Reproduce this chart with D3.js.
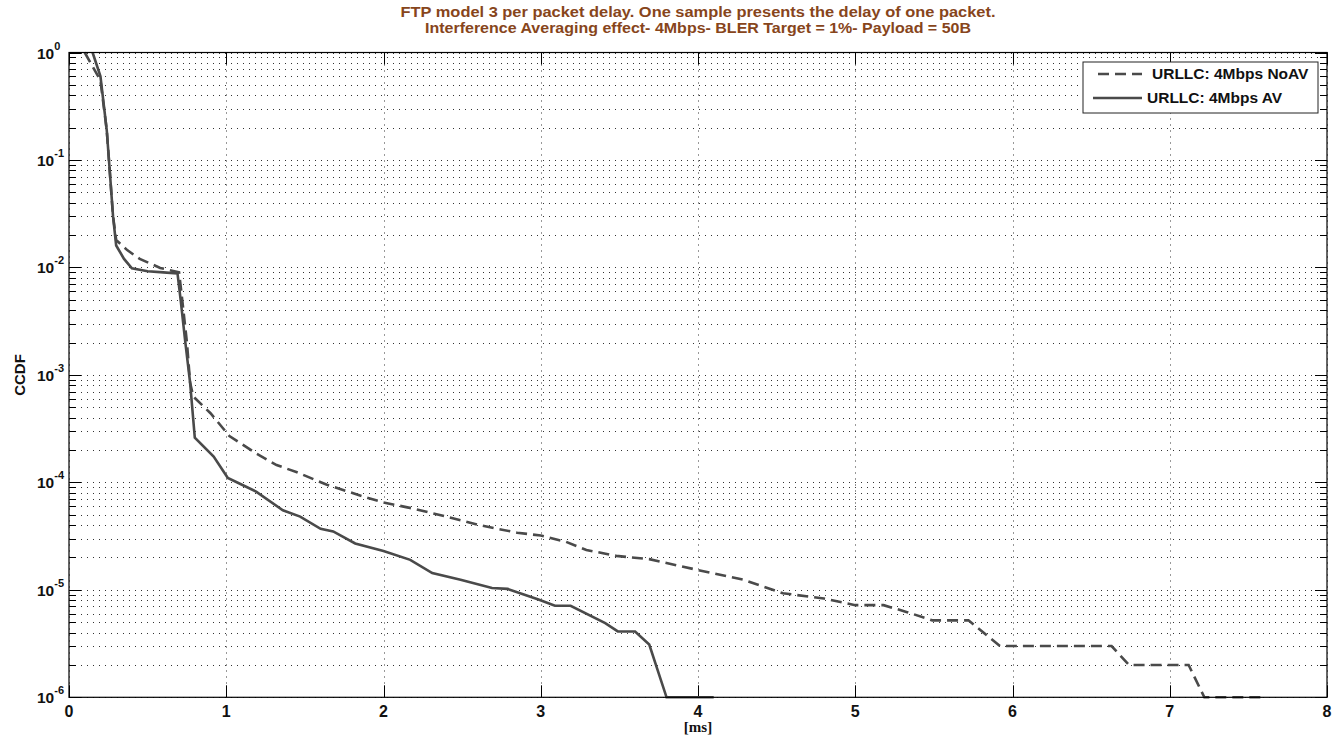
<!DOCTYPE html>
<html>
<head>
<meta charset="utf-8">
<script src="https://cdn.jsdelivr.net/npm/d3@7"></script>
<style>
  body { margin: 0; background: #fff; }
  text { font-family: "Liberation Sans", Arial, sans-serif; font-weight: bold; }
</style>
</head>
<body>
<div id="chart"></div>
<script>
// CCDF of per packet delay
var noavX = [0.10, 0.20, 0.24, 0.26, 0.28, 0.30, 0.37, 0.45, 0.58, 0.70, 0.72, 0.75, 0.77, 0.79, 0.90, 1.02, 1.19, 1.32, 1.45, 1.64, 1.87, 2.00, 2.19, 2.40, 2.61, 2.85, 3.00, 3.16, 3.29, 3.48, 3.69, 3.99, 4.29, 4.54, 4.80, 5.00, 5.18, 5.33, 5.49, 5.72, 5.92, 6.63, 6.74, 7.12, 7.22, 7.60];
var noavY = [1.0, 0.55, 0.19, 0.076, 0.03, 0.018, 0.0145, 0.012, 0.0099, 0.009, 0.005, 0.002, 0.00085, 0.00063, 0.00044, 0.00027, 0.000186, 0.000145, 0.000124, 0.000095, 0.000074, 0.000065, 0.000057, 0.000048, 0.00004, 0.000034, 0.000032, 0.000028, 0.0000235, 0.0000207, 0.0000193, 0.0000154, 0.0000124, 0.0000093, 0.0000083, 0.0000072, 0.0000072, 0.0000062, 0.0000052, 0.0000052, 0.000003, 0.000003, 0.000002, 0.000002, 0.000001, 0.000001];

var avX = [0.15, 0.20, 0.24, 0.26, 0.28, 0.30, 0.35, 0.40, 0.50, 0.60, 0.69, 0.71, 0.74, 0.77, 0.80, 0.92, 1.01, 1.10, 1.19, 1.36, 1.47, 1.60, 1.68, 1.82, 2.00, 2.17, 2.31, 2.49, 2.69, 2.79, 2.99, 3.09, 3.19, 3.41, 3.49, 3.60, 3.69, 3.80, 4.10];
var avY = [1.0, 0.6, 0.19, 0.076, 0.03, 0.016, 0.012, 0.0098, 0.0092, 0.009, 0.0088, 0.005, 0.002, 0.00085, 0.00026, 0.000174, 0.00011, 0.000095, 0.000082, 0.000055, 0.000048, 0.000037, 0.000035, 0.000027, 0.000023, 0.000019, 0.0000143, 0.0000124, 0.0000104, 0.0000102, 0.0000081, 0.0000071, 0.0000071, 0.0000049, 0.0000041, 0.0000041, 0.0000031, 0.000001, 0.000001];

var seriesNames = ["URLLC: 4Mbps NoAV", "URLLC: 4Mbps AV"];
var xTicks = [0, 1, 2, 3, 4, 5, 6, 7, 8];
var yExponents = [0, -1, -2, -3, -4, -5, -6];
var titleLines = ["FTP model 3 per packet delay. One sample presents the delay of one packet.",
                  "Interference Averaging effect- 4Mbps- BLER Target = 1%- Payload = 50B"];

var W = 1343, H = 744;
var margin = {left: 69, right: 16, top: 52.5, bottom: 46.7};

var svg = d3.select("#chart").append("svg")
    .attr("width", W).attr("height", H);

var x = d3.scaleLinear().domain([0, 8]).range([margin.left, W - margin.right]);
var y = d3.scaleLog().domain([1e-6, 1]).range([H - margin.bottom, margin.top]);

// minor values 2..9 per decade
var minorVals = [];
yExponents.slice(1).forEach(function (e) {
    for (var k = 2; k <= 9; k++) minorVals.push(k * Math.pow(10, e));
});
var majorVals = yExponents.map(function (e) { return Math.pow(10, e); });

var grid = svg.append("g").attr("class", "grid")
    .attr("stroke", "#333").attr("stroke-width", 1)
    .attr("stroke-dasharray", "1,5");

grid.selectAll(".hg")
    .data(majorVals.concat(minorVals))
    .enter().append("line")
    .attr("x1", x(0)).attr("x2", x(8))
    .attr("y1", function (d) { return Math.round(y(d)) + 0.5; })
    .attr("y2", function (d) { return Math.round(y(d)) + 0.5; });

grid.selectAll(".vg")
    .data(xTicks)
    .enter().append("line")
    .attr("y1", y(1)).attr("y2", y(1e-6))
    .attr("x1", function (d) { return Math.round(x(d)) + 0.5; })
    .attr("x2", function (d) { return Math.round(x(d)) + 0.5; });

// tick marks (inward, all sides)
var ticks = svg.append("g").attr("stroke", "#000").attr("stroke-width", 1);
majorVals.forEach(function (v) {
    var yy = Math.round(y(v)) + 0.5;
    ticks.append("line").attr("x1", x(0)).attr("x2", x(0) + 12).attr("y1", yy).attr("y2", yy);
    ticks.append("line").attr("x1", x(8)).attr("x2", x(8) - 12).attr("y1", yy).attr("y2", yy);
});
minorVals.forEach(function (v) {
    var yy = Math.round(y(v)) + 0.5;
    ticks.append("line").attr("x1", x(0)).attr("x2", x(0) + 7).attr("y1", yy).attr("y2", yy);
    ticks.append("line").attr("x1", x(8)).attr("x2", x(8) - 7).attr("y1", yy).attr("y2", yy);
});
xTicks.forEach(function (v) {
    var xx = Math.round(x(v)) + 0.5;
    ticks.append("line").attr("x1", xx).attr("x2", xx).attr("y1", y(1e-6)).attr("y2", y(1e-6) - 12);
    ticks.append("line").attr("x1", xx).attr("x2", xx).attr("y1", y(1)).attr("y2", y(1) + 12);
});

// curves
var line = d3.line()
    .x(function (d) { return x(d[0]); })
    .y(function (d) { return y(d[1]); });

var noavData = d3.zip(noavX, noavY);
var avData = d3.zip(avX, avY);

svg.append("path").datum(noavData)
    .attr("d", line)
    .attr("fill", "none").attr("stroke", "#4a4a4a")
    .attr("stroke-width", 2.6)
    .attr("stroke-dasharray", "11,6");

svg.append("path").datum(avData)
    .attr("d", line)
    .attr("fill", "none").attr("stroke", "#4a4a4a")
    .attr("stroke-width", 2.6);

// box
svg.append("rect")
    .attr("x", x(0)).attr("y", y(1))
    .attr("width", x(8) - x(0)).attr("height", y(1e-6) - y(1))
    .attr("fill", "none").attr("stroke", "#000").attr("stroke-width", 1.2);

// x tick labels
svg.selectAll(".xl")
    .data(xTicks)
    .enter().append("text")
    .attr("x", function (d) { return x(d); })
    .attr("y", 717)
    .attr("text-anchor", "middle")
    .style("font-size", "16px")
    .attr("fill", "#111")
    .text(function (d) { return d; });

// y tick labels 10^e
var yl = svg.selectAll(".yl")
    .data(yExponents)
    .enter().append("text")
    .attr("x", 37)
    .attr("y", function (d) { return y(Math.pow(10, d)) + 6; })
    .style("font-size", "15.5px")
    .attr("fill", "#111");
yl.append("tspan").text("10");
yl.append("tspan")
    .attr("dy", -9)
    .style("font-size", "11px")
    .text(function (d) { return d; });

// axis labels
svg.append("text")
    .attr("x", 698).attr("y", 732)
    .attr("text-anchor", "middle")
    .style("font-size", "15px")
    .style("font-family", "'Liberation Serif', serif")
    .attr("fill", "#111")
    .text("[ms]");

svg.append("text")
    .attr("transform", "translate(25,375) rotate(-90)")
    .attr("text-anchor", "middle")
    .style("font-size", "15px")
    .attr("fill", "#111")
    .text("CCDF");

// title
svg.selectAll(".title")
    .data(titleLines)
    .enter().append("text")
    .attr("x", 698)
    .attr("y", function (d, i) { return 17 + i * 16; })
    .attr("text-anchor", "middle")
    .style("font-size", "14.5px")
    .attr("textLength", function (d, i) { return i === 0 ? 595 : 546; })
    .attr("lengthAdjust", "spacingAndGlyphs")
    .attr("fill", "#87451b")
    .text(function (d) { return d; });

// legend
var legend = svg.append("g").attr("class", "legend");
legend.append("rect")
    .attr("x", 1083).attr("y", 62)
    .attr("width", 235).attr("height", 51)
    .attr("fill", "#fff").attr("stroke", "#222").attr("stroke-width", 1);

var legendRows = legend.selectAll(".row")
    .data(seriesNames)
    .enter().append("g")
    .attr("transform", function (d, i) { return "translate(0," + (74 + i * 24) + ")"; });

legendRows.append("line")
    .attr("x1", function (d, i) { return i === 0 ? 1098 : 1093; })
    .attr("x2", 1142)
    .attr("y1", 0).attr("y2", 0)
    .attr("stroke", "#4a4a4a").attr("stroke-width", 2.6)
    .attr("stroke-dasharray", function (d, i) { return i === 0 ? "11,6" : null; });

legendRows.append("text")
    .attr("x", function (d, i) { return i === 0 ? 1152 : 1147; })
    .attr("y", 5)
    .style("font-size", "15.5px")
    .attr("fill", "#111")
    .text(function (d) { return d; });
</script>
</body>
</html>
